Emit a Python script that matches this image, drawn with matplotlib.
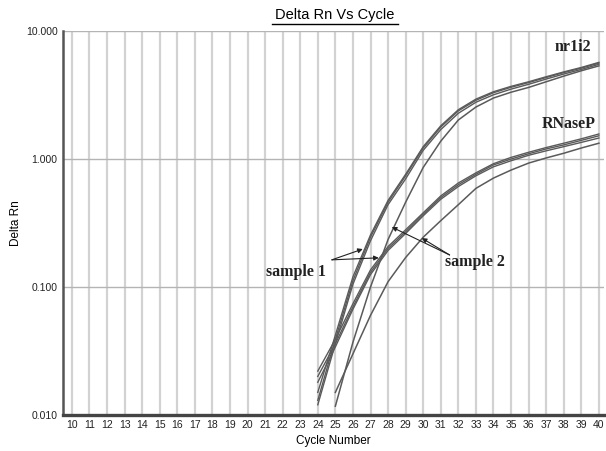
#!/usr/bin/env python3

import matplotlib
matplotlib.use("Agg")
import matplotlib.pyplot as plt
from matplotlib.lines import Line2D
from matplotlib.ticker import FixedLocator, FixedFormatter, NullLocator


##### step 1: data #####
CYCLES_S1 = list(range(24, 41))
CYCLES_S2 = list(range(25, 41))

# nr1i2, sample 1 (three replicates, thick bundle)
NR1I2_S1_A = [0.012, 0.036, 0.105, 0.23, 0.44, 0.70, 1.17, 1.70, 2.28, 2.78, 3.18, 3.52, 3.84, 4.22, 4.62, 5.02, 5.50]
NR1I2_S1_B = [0.013, 0.039, 0.112, 0.245, 0.46, 0.74, 1.22, 1.78, 2.38, 2.88, 3.30, 3.64, 3.96, 4.34, 4.74, 5.14, 5.62]
NR1I2_S1_C = [0.015, 0.042, 0.120, 0.255, 0.475, 0.76, 1.25, 1.82, 2.43, 2.94, 3.36, 3.70, 4.02, 4.40, 4.80, 5.20, 5.70]

# nr1i2, sample 2 (thin line)
NR1I2_S2 = [0.0117, 0.037, 0.10, 0.235, 0.46, 0.86, 1.38, 2.02, 2.55, 3.00, 3.33, 3.63, 4.02, 4.45, 4.90, 5.35]

# RNaseP, sample 1 (three replicates)
RNASEP_S1_A = [0.018, 0.034, 0.067, 0.125, 0.193, 0.262, 0.36, 0.485, 0.61, 0.74, 0.87, 0.97, 1.07, 1.16, 1.25, 1.35, 1.46]
RNASEP_S1_B = [0.020, 0.036, 0.070, 0.130, 0.200, 0.270, 0.37, 0.500, 0.63, 0.76, 0.90, 1.00, 1.10, 1.20, 1.29, 1.40, 1.52]
RNASEP_S1_C = [0.022, 0.039, 0.074, 0.136, 0.207, 0.280, 0.38, 0.515, 0.65, 0.78, 0.92, 1.03, 1.13, 1.23, 1.33, 1.44, 1.57]

# RNaseP, sample 2 (thin line)
RNASEP_S2 = [0.015, 0.030, 0.060, 0.110, 0.170, 0.245, 0.33, 0.44, 0.59, 0.71, 0.82, 0.93, 1.02, 1.11, 1.22, 1.33]

Y_TICKS = [0.01, 0.1, 1.0, 10.0]
Y_TICK_LABELS = ["0.010", "0.100", "1.000", "10.000"]
X_TICKS = list(range(10, 41))

SANS = ["Liberation Sans", "DejaVu Sans"]
SERIF = ["Liberation Serif", "DejaVu Serif"]

LINE_COLOR = "#5a5a5a"


##### step 2: figure #####
fig = plt.figure(figsize=(6.06, 4.51), dpi=100)
ax = fig.add_axes([0.104, 0.080, 0.893, 0.851])

for vals in (NR1I2_S1_A, NR1I2_S1_B, NR1I2_S1_C, RNASEP_S1_A, RNASEP_S1_B, RNASEP_S1_C):
    ax.plot(CYCLES_S1, vals, color=LINE_COLOR, linewidth=1.0, zorder=3)

for vals in (NR1I2_S2, RNASEP_S2):
    ax.plot(CYCLES_S2, vals, color=LINE_COLOR, linewidth=1.1, zorder=3)

ax.set_yscale("log")
ax.set_ylim(0.01, 10.0)
ax.set_xlim(9.5, 40.3)

ax.yaxis.set_major_locator(FixedLocator(Y_TICKS))
ax.yaxis.set_major_formatter(FixedFormatter(Y_TICK_LABELS))
ax.yaxis.set_minor_locator(NullLocator())
ax.set_xticks(X_TICKS)
ax.set_xticklabels([str(c) for c in X_TICKS])

ax.tick_params(axis="both", length=0, labelsize=7.5, colors="#222222")
ax.tick_params(axis="x", pad=4)
ax.tick_params(axis="y", pad=4)
for lab in ax.get_xticklabels() + ax.get_yticklabels():
    lab.set_family(SANS)

ax.grid(axis="x", color="#d2d2d2", linewidth=1.6, zorder=0)
ax.grid(axis="y", color="#b4b4b4", linewidth=1.0, zorder=0)
ax.set_axisbelow(True)

for side in ("top", "right"):
    ax.spines[side].set_visible(False)
ax.spines["left"].set_color("#555555")
ax.spines["left"].set_linewidth(1.8)
ax.spines["bottom"].set_color("#444444")
ax.spines["bottom"].set_linewidth(2.4)

ax.set_xlabel("Cycle Number", fontsize=8.5, family=SANS, labelpad=3)
ax.set_ylabel("Delta Rn", fontsize=8.5, family=SANS, labelpad=3)

##### title with underline #####
fig.text(0.552, 0.958, "Delta Rn Vs Cycle", ha="center", va="baseline",
         fontsize=10.5, family=SANS)
fig.add_artist(Line2D([0.449, 0.657], [0.947, 0.947], color="black", linewidth=1.0))

##### labels and arrows #####
bold = dict(fontsize=11.5, family=SERIF, fontweight="bold", color="#222222")
ax.text(38.5, 7.5, "nr1i2", ha="center", va="center", **bold)
ax.text(38.3, 1.87, "RNaseP", ha="center", va="center", **bold)
ax.text(22.75, 0.131, "sample 1", ha="center", va="center", **bold)
ax.text(32.95, 0.157, "sample 2", ha="center", va="center", **bold)

arrow = dict(arrowstyle="-|>", color="#222222", linewidth=0.8,
             mutation_scale=7, shrinkA=0, shrinkB=0)
for tip in [(26.56, 0.198), (27.47, 0.169)]:
    ax.annotate("", xy=tip, xytext=(24.8, 0.163), arrowprops=arrow, zorder=5)
for tip in [(28.21, 0.294), (29.92, 0.241)]:
    ax.annotate("", xy=tip, xytext=(31.5, 0.178), arrowprops=arrow, zorder=5)

fig.savefig("out.png", dpi=100)
plt.close(fig)
